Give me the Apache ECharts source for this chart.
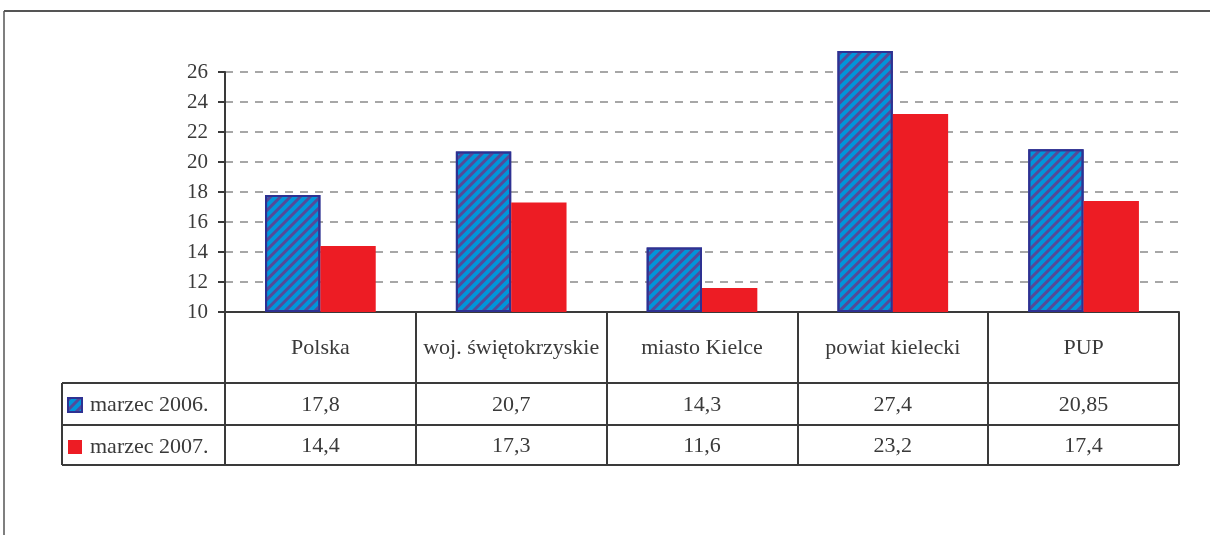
<!DOCTYPE html>
<html>
<head>
<meta charset="utf-8">
<script src="https://cdn.jsdelivr.net/npm/echarts@6/dist/echarts.min.js"></script>
<style>
  html, body { margin: 0; padding: 0; background: #fff; }
  #chart { width: 1210px; height: 535px; }
</style>
</head>
<body>
<div id="chart"></div>
<script>
const categories = ['Polska', 'woj. świętokrzyskie', 'miasto Kielce', 'powiat kielecki', 'PUP'];
const seriesNames = ['marzec 2006.', 'marzec 2007.'];
const values2006 = [17.8, 20.7, 14.3, 27.4, 20.85];
const values2007 = [14.4, 17.3, 11.6, 23.2, 17.4];
const yTicks = { min: 10, max: 26, step: 2 };

const serif = '"Liberation Serif", "DejaVu Serif", serif';
const ink = '#3a3a3a';
const fmt = v => String(v).replace('.', ',');

// table geometry (rows below the plot)
const gridL = 225, gridR = 1179, axisY = 312;
const row1 = 383, row2 = 425, row3 = 465, legendL = 62;

const cellText = { interval: 0, verticalAlign: 'middle', fontFamily: serif, fontSize: 22, color: ink };

const chart = echarts.init(document.getElementById('chart'));

chart.setOption({
  animation: false,
  grid: { left: gridL, right: 1210 - gridR, top: 72, bottom: 535 - axisY },
  legend: {
    orient: 'vertical',
    left: 67,
    top: 394,
    padding: 0,
    icon: 'rect',
    itemWidth: 14,
    itemHeight: 14,
    itemGap: 20,
    textStyle: { fontFamily: serif, fontSize: 22, lineHeight: 22, color: ink, padding: [0, 0, 0, 3] },
    data: seriesNames
  },
  xAxis: [
    {
      type: 'category',
      data: categories,
      axisLine: { lineStyle: { color: ink, width: 2 } },
      axisTick: { show: true, interval: 0, length: row3 - axisY, lineStyle: { color: ink, width: 2 } },
      axisLabel: Object.assign({ margin: 36 }, cellText)
    },
    {
      type: 'category',
      data: values2006.map(fmt),
      position: 'bottom',
      axisLine: { show: false },
      axisTick: { show: false },
      axisLabel: Object.assign({ margin: 93 }, cellText)
    },
    {
      type: 'category',
      data: values2007.map(fmt),
      position: 'bottom',
      axisLine: { show: false },
      axisTick: { show: false },
      axisLabel: Object.assign({ margin: 134 }, cellText)
    }
  ],
  yAxis: {
    type: 'value',
    min: yTicks.min,
    max: yTicks.max,
    startValue: yTicks.min,
    interval: yTicks.step,
    axisLine: { show: true, lineStyle: { color: ink, width: 2 } },
    axisTick: { show: true, length: 7, lineStyle: { color: ink, width: 2 } },
    axisLabel: { margin: 17, fontFamily: serif, fontSize: 21, color: ink },
    splitLine: { lineStyle: { color: '#8a8a8a', width: 1.5, type: [8, 7] } }
  },
  series: [
    {
      name: seriesNames[0],
      type: 'bar',
      data: values2006,
      clip: false,
      barGap: '0%',
      barCategoryGap: '42%',
      itemStyle: {
        color: '#0095da',
        borderColor: '#2e3192',
        borderWidth: 2,
        decal: {
          symbol: 'rect',
          color: 'rgba(88,70,150,0.95)',
          dashArrayX: [1, 0],
          dashArrayY: [3, 3.5],
          rotation: -Math.PI / 4
        }
      }
    },
    {
      name: seriesNames[1],
      type: 'bar',
      data: values2007,
      clip: false,
      itemStyle: { color: '#ed1c24' }
    }
  ],
  graphic: [
    { type: 'line', shape: { x1: 4, y1: 11, x2: 1210, y2: 11 }, style: { stroke: '#555', lineWidth: 2 } },
    { type: 'line', shape: { x1: 4, y1: 11, x2: 4, y2: 535 }, style: { stroke: '#555', lineWidth: 1.5 } },
    { type: 'line', shape: { x1: legendL, y1: row1, x2: gridR, y2: row1 }, style: { stroke: ink, lineWidth: 2 } },
    { type: 'line', shape: { x1: legendL, y1: row2, x2: gridR, y2: row2 }, style: { stroke: ink, lineWidth: 2 } },
    { type: 'line', shape: { x1: legendL, y1: row3, x2: gridR, y2: row3 }, style: { stroke: ink, lineWidth: 2 } },
    { type: 'line', shape: { x1: legendL, y1: row1, x2: legendL, y2: row3 }, style: { stroke: ink, lineWidth: 2 } }
  ]
});
</script>
</body>
</html>
